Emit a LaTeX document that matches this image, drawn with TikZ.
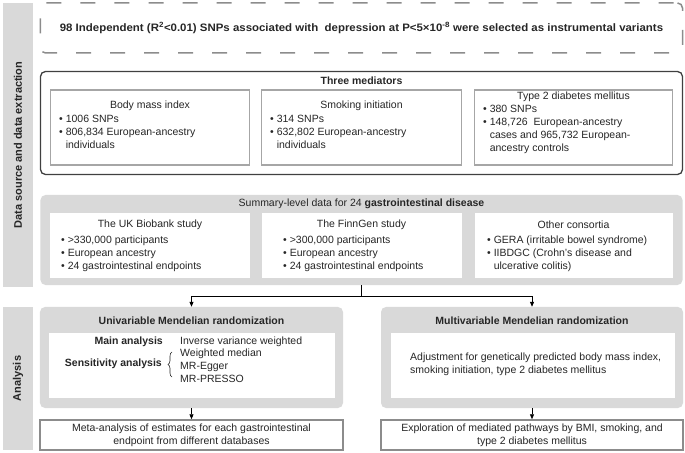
\documentclass[tikz,border=0pt]{standalone}
\usepackage{fontspec}
\setmainfont{Liberation Sans}
\newfontfamily\widefont{Liberation Sans}[FakeStretch=1.06]
\usetikzlibrary{arrows.meta,decorations.pathreplacing}
\definecolor{panel}{HTML}{D9D9D9}
\definecolor{edgegray}{HTML}{A6A6A6}
\definecolor{dashgray}{HTML}{8C8C8C}
\definecolor{darkedge}{HTML}{404040}
\definecolor{txt}{HTML}{262626}
\tikzset{
  every node/.style={font=\fontsize{10.5bp}{13bp}\selectfont, text=txt, inner sep=0pt},
  sidebar/.style={fill=panel, font=\fontsize{11bp}{13bp}\selectfont\bfseries, rotate=90},
  dashbox/.style={draw=dashgray, line width=1.5bp, dash pattern=on 15bp off 19bp, dash phase=-4bp, rounded corners=5bp},
  blackbox/.style={draw=darkedge, line width=1.3bp, rounded corners=5bp},
  panelbox/.style={fill=panel, rounded corners=5bp},
  whitebox/.style={fill=white, draw=edgegray, line width=1.5bp},
  plainwhite/.style={fill=white},
  endbox/.style={fill=white, draw=gray!90, line width=1.5bp, align=center},
  bul/.style={align=left, anchor=west},
  ttl/.style={font=\fontsize{10.5bp}{13bp}\selectfont\bfseries},
  bigttl/.style={font=\widefont\fontsize{10.8bp}{13bp}\selectfont\bfseries},
  conn/.style={draw=black, line width=0.8bp},
  arr/.style={conn, -{Triangle[length=5bp,width=4bp]}}
}
\newcommand{\bu}{\textbullet\ }
\newcommand{\nb}{\phantom{\textbullet\ }}
\begin{document}
\begin{tikzpicture}[x=1bp,y=-1bp]
\useasboundingbox (0,0) rectangle (685,453);
% side bars
\node[sidebar, minimum width=284bp, minimum height=30bp] (side1) at (18,145) {Data source and data extraction};
\node[sidebar, minimum width=143bp, minimum height=30bp] (side2) at (18,378.5) {Analysis};
% dashed box
\node[dashbox, minimum width=642bp, minimum height=50bp, bigttl] (ivs) at (361.5,28)
  {98 Independent (R\textsuperscript{2}<0.01) SNPs associated with\ \ depression at P<5×10\textsuperscript{-8} were selected as instrumental variants};
% mediators
\node[blackbox, minimum width=642bp, minimum height=103bp] (med) at (361.5,123) {};
\node[ttl] (medtitle) at (361.5,81) {Three mediators};
\node[whitebox, minimum width=199bp, minimum height=75bp] (m1) at (150,127.5) {};
\node[whitebox, minimum width=200bp, minimum height=75bp] (m2) at (361.5,127.5) {};
\node[whitebox, minimum width=198bp, minimum height=75bp] (m3) at (573.5,127.5) {};
\node (m1t) at (150,106) {Body mass index};
\node[bul] (m1b) at (59,132) {\bu 1006 SNPs\\\bu 806,834 European-ancestry\\\nb individuals};
\node (m2t) at (361.5,106) {Smoking initiation};
\node[bul] (m2b) at (270,132) {\bu 314 SNPs\\\bu 632,802 European-ancestry\\\nb individuals};
\node (m3t) at (573.5,97) {Type 2 diabetes mellitus};
\node[bul] (m3b) at (483,129) {\bu 380 SNPs\\\bu 148,726\ \ European-ancestry\\\nb cases and 965,732 European-\\\nb ancestry controls};
% GI data
\node[panelbox, minimum width=642bp, minimum height=90bp] (gi) at (361.5,240) {};
\node (gititle) at (361.5,204) {Summary-level data for 24 \textbf{gastrointestinal disease}};
\node[plainwhite, minimum width=200bp, minimum height=65bp] (g1) at (150,245.5) {};
\node[plainwhite, minimum width=200bp, minimum height=65bp] (g2) at (361.5,245.5) {};
\node[plainwhite, minimum width=198bp, minimum height=65bp] (g3) at (573.5,245.5) {};
\node (g1t) at (150,225) {The UK Biobank study};
\node[bul] (g1b) at (61,254) {\bu >330,000 participants\\\bu European ancestry\\\bu 24 gastrointestinal endpoints};
\node (g2t) at (361.5,225) {The FinnGen study};
\node[bul] (g2b) at (283,254) {\bu >300,000 participants\\\bu European ancestry\\\bu 24 gastrointestinal endpoints};
\node (g3t) at (573.5,225) {Other consortia};
\node[bul] (g3b) at (487,254) {\bu GERA (irritable bowel syndrome)\\\bu IIBDGC (Crohn's disease and\\\nb ulcerative colitis)};
% analysis
\node[panelbox, minimum width=303bp, minimum height=101bp] (uni) at (191.5,357.5) {};
\node[ttl] (unititle) at (191.5,321) {Univariable Mendelian randomization};
\node[plainwhite, minimum width=285bp, minimum height=65bp] (uniin) at (192,365.5) {};
\node[ttl, anchor=east] (mainl) at (163,342) {Main analysis};
\node[anchor=west] (mainr) at (180,342) {Inverse variance weighted};
\node[ttl, anchor=east] (sensl) at (162,364) {Sensitivity analysis};
\node[bul] (sensr) at (180,365.5) {Weighted median\\MR-Egger\\MR-PRESSO};
\coordinate (bra) at (172,377);
\coordinate (brb) at (172,352);
\draw[decorate, decoration={brace, amplitude=4bp}, line width=0.6bp, txt] (bra) -- (brb);
\node[panelbox, minimum width=302bp, minimum height=101bp] (multi) at (532,357.5) {};
\node[ttl] (multititle) at (532,321) {Multivariable Mendelian randomization};
\node[plainwhite, minimum width=284bp, minimum height=65bp] (multiin) at (533,365.5) {};
\node[bul] (multitext) at (410,364) {Adjustment for genetically predicted body mass index,\\smoking initiation, type 2 diabetes mellitus};
% bottom boxes
\node[endbox, minimum width=303bp, minimum height=30bp] (meta) at (191.5,435) {Meta-analysis of estimates for each gastrointestinal\\endpoint from different databases};
\node[endbox, minimum width=302bp, minimum height=30bp] (expl) at (532,435) {Exploration of mediated pathways by BMI, smoking, and\\type 2 diabetes mellitus};
% connectors
\coordinate (split) at (361.5,296);
\draw[conn] (gi.south) -- (split);
\draw[arr] (split) -| (uni.north);
\draw[arr] (split) -| (multi.north);
\draw[arr] (uni.south) -- (meta.north);
\draw[arr] (multi.south) -- (expl.north);
\end{tikzpicture}
\end{document}
